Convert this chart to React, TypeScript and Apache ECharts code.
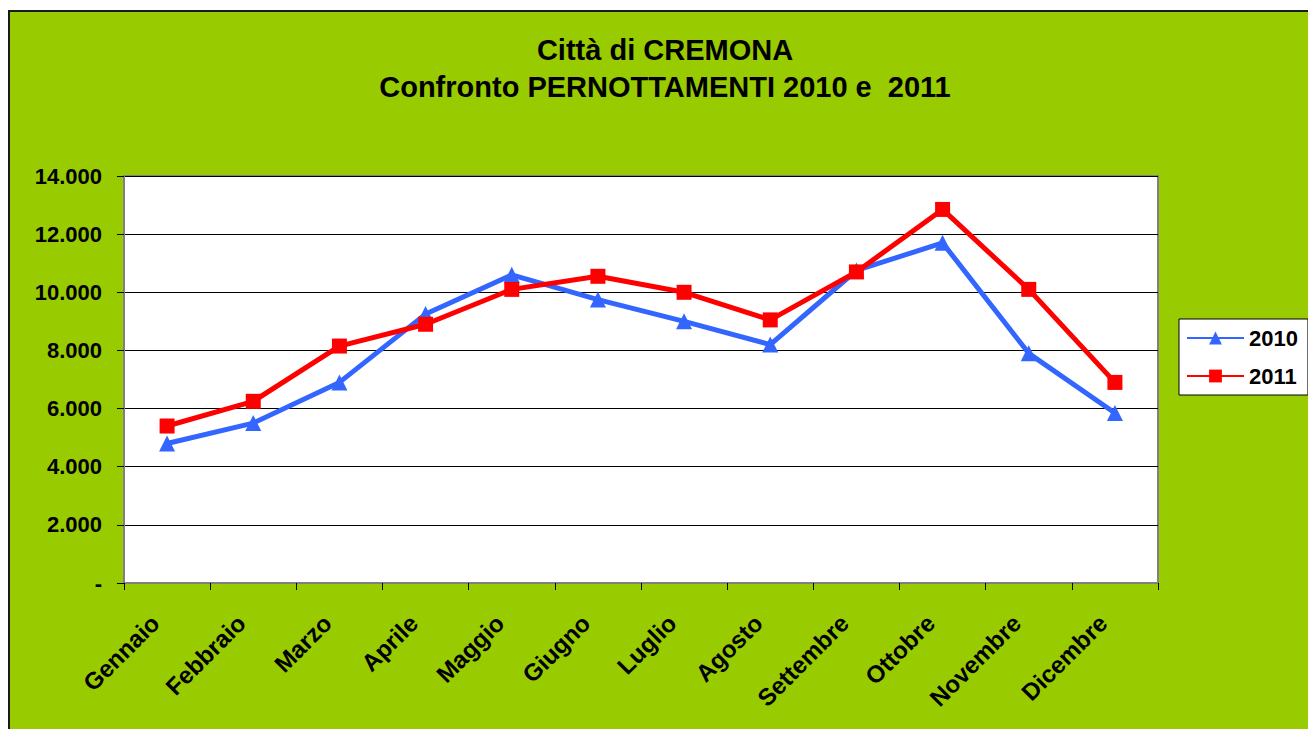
import React, { useEffect, useRef } from "react";
import * as echarts from "echarts";

const months = ["Gennaio", "Febbraio", "Marzo", "Aprile", "Maggio", "Giugno", "Luglio", "Agosto", "Settembre", "Ottobre", "Novembre", "Dicembre"];
const values2010 = [4800, 5500, 6900, 9250, 10600, 9750, 9000, 8200, 10750, 11700, 7900, 5850];
const values2011 = [5400, 6250, 8150, 8900, 10100, 10550, 10000, 9050, 10700, 12850, 10100, 6900];
const seriesNames = ["2010", "2011"];
const titleLines = ["Città di CREMONA", "Confronto PERNOTTAMENTI 2010 e  2011"];

const FONT = 'Arial, "Liberation Sans", sans-serif';

function fmt(v: number): string {
  if (v === 0) return "-";
  return String(v).replace(/\B(?=(\d{3})+(?!\d))/g, ".");
}

export default function App() {
  const ref = useRef<HTMLDivElement>(null);
  useEffect(() => {
    if (!ref.current) return;
    const chart = echarts.init(ref.current, null, { renderer: "svg" });
    chart.setOption({
      animation: false,
      title: {
        text: titleLines.join("\n"),
        left: 665,
        top: 31,
        padding: 0,
        textAlign: "center",
        textStyle: {
          fontFamily: FONT,
          fontWeight: "bold",
          fontSize: 29,
          lineHeight: 37,
          color: "#000",
        },
      },
      legend: {
        orient: "vertical",
        left: 1179,
        top: 319,
        padding: [8, 10, 8, 7],
        itemWidth: 57,
        itemHeight: 16,
        itemGap: 16,
        backgroundColor: "#fff",
        borderColor: "#000",
        borderWidth: 1,
        borderRadius: 0,
        textStyle: { fontFamily: FONT, fontWeight: "bold", fontSize: 22, color: "#000", lineHeight: 22 },
        data: seriesNames,
      },
      grid: {
        left: 124,
        right: 150,
        top: 176,
        bottom: 146,
        show: true,
        backgroundColor: "#fff",
        borderColor: "#808080",
        borderWidth: 2,
      },
      xAxis: {
        type: "category",
        data: months,
        boundaryGap: true,
        axisLine: { show: true, lineStyle: { color: "#808080", width: 2 } },
        axisTick: { show: true, length: 7, interval: 0, lineStyle: { color: "#000", width: 1 } },
        axisLabel: {
          interval: 0,
          rotate: 45,
          margin: 24,
          padding: [0, 17, 0, 0],
          fontFamily: FONT,
          fontWeight: "bold",
          fontSize: 24,
          color: "#000",
        },
      },
      yAxis: {
        type: "value",
        min: 0,
        max: 14000,
        interval: 2000,
        axisLine: { show: true, lineStyle: { color: "#808080", width: 2 } },
        axisTick: { show: true, length: 7, lineStyle: { color: "#000", width: 1 } },
        axisLabel: {
          margin: 22,
          formatter: (v: number) => fmt(v),
          fontFamily: FONT,
          fontWeight: "bold",
          fontSize: 22,
          color: "#000",
        },
        splitLine: { show: true, lineStyle: { color: "#000", width: 1 } },
      },
      series: [
        {
          name: seriesNames[0],
          type: "line",
          data: values2010,
          symbol: "triangle",
          symbolSize: 16,
          lineStyle: { color: "#3366FF", width: 5 },
          itemStyle: { color: "#3366FF" },
          z: 3,
        },
        {
          name: seriesNames[1],
          type: "line",
          data: values2011,
          symbol: "rect",
          symbolSize: 15,
          lineStyle: { color: "#FF0000", width: 5 },
          itemStyle: { color: "#FF0000" },
          z: 4,
        },
      ],
    });
    return () => chart.dispose();
  }, []);

  return (
    <div style={{ position: "fixed", left: 0, top: 0, width: 1308, height: 729, background: "#fff", overflow: "hidden" }}>
      <div
        style={{
          position: "absolute",
          left: 8,
          top: 10,
          width: 1330,
          height: 750,
          background: "#99CC00",
          border: "2px solid #1a1a1a",
          boxSizing: "border-box",
        }}
      />
      <div ref={ref} style={{ position: "absolute", left: 0, top: 0, width: 1308, height: 729 }} />
    </div>
  );
}
